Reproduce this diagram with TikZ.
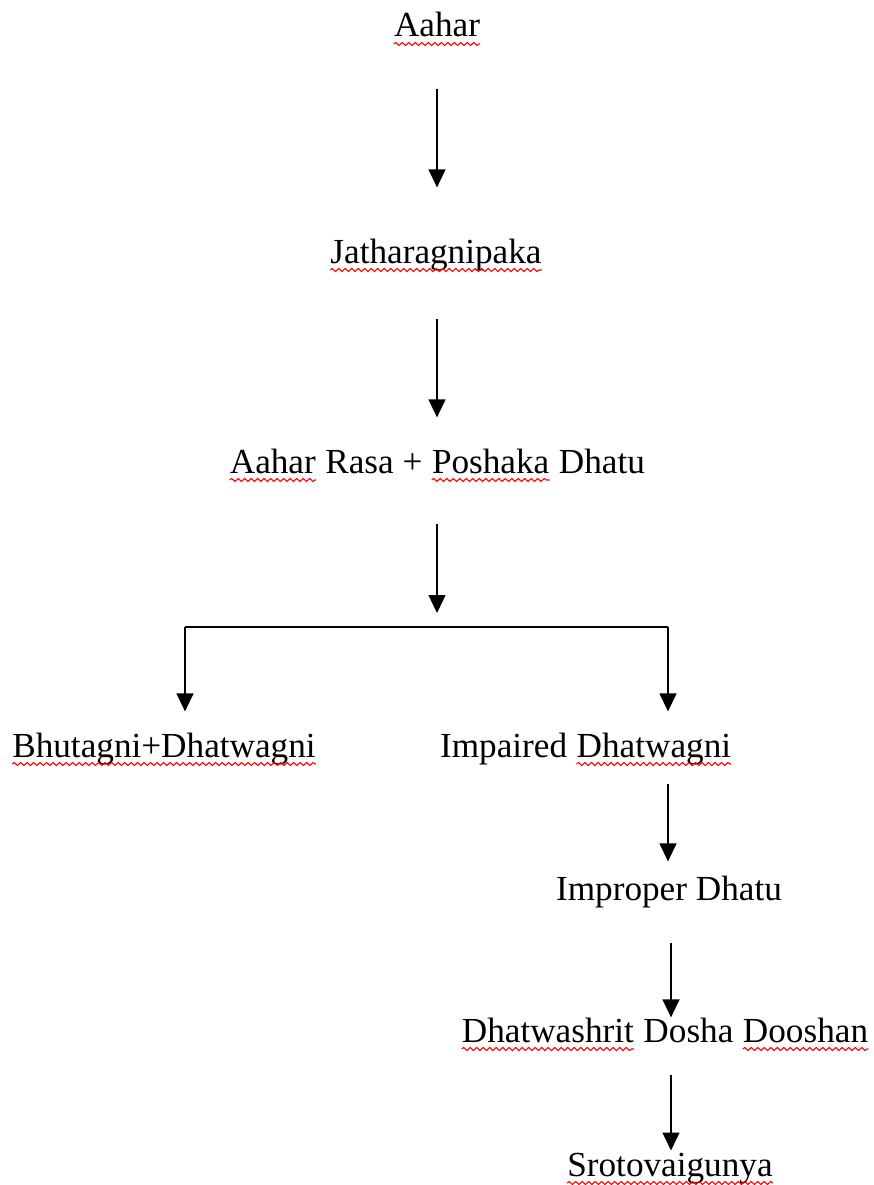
\documentclass[tikz,border=0pt]{standalone}
\usepackage{fontspec}
\setmainfont{Liberation Serif}
\usepackage{tikz}
\usetikzlibrary{arrows.meta}
\usetikzlibrary{positioning, decorations.pathmorphing}
\tikzset{
term/.style = { inner sep = 0pt, anchor = base, font = \fontsize{35.2}{42}\selectfont },
flow arrow/.style = { draw = black, line width = 1.3pt, -{Triangle[length = 18pt, width = 17pt]} },
split line/.style = { draw = black, line width = 1.3pt },
spell squiggle/.style = { draw = red, line width = 1.1pt, decorate, decoration = { snake, amplitude = 1.5pt, segment length = 6.5pt } },
}
% red wavy mark under a word
\newcommand{\spell}[1]{\tikz[baseline = (w.base)]{\node[inner sep = 0pt, anchor = base] (w) {#1}; \path[spell squiggle] ([yshift = -7pt]w.base west) -- ([yshift = -7pt]w.base east);}}

\begin{document}
\begin{tikzpicture}[x = 1pt, y = -1pt]
    \useasboundingbox (0, 0) rectangle (873, 1185);
    \node[term] (aahar) at (437, 37) {\spell{Aahar}};
    \node[term] (jathar) at (436, 263) {\spell{Jatharagnipaka}};
    \node[term] (rasa) at (437, 473) {\spell{Aahar} Rasa + \spell{Poshaka} Dhatu};
    \node[term] (bhutagni) at (164, 757) {\spell{Bhutagni+Dhatwagni}};
    \node[term] (impaired) at (586, 757) {Impaired \spell{Dhatwagni}};
    \node[term] (improper) at (669, 900) {Improper Dhatu};
    \node[term] (dooshan) at (665, 1042) {\spell{Dhatwashrit} Dosha \spell{Dooshan}};
    \node[term] (sroto) at (670, 1176) {\spell{Srotovaigunya}};
    \coordinate (split) at (437, 627);
    \coordinate (left split) at (185, 627);
    \coordinate (right split) at (668, 627);
    \coordinate (right column) at (671, 900);
    \path[flow arrow, shorten <= 43pt, shorten >= 51pt] (aahar.south) -- (jathar.north -| aahar);
    \path[flow arrow, shorten <= 47pt, shorten >= 31pt] (jathar.south -| rasa) -- (rasa.north);
    \path[flow arrow, shorten <= 42pt, shorten >= 14pt] (rasa.south) -- (split);
    \path[split line] (left split) -- (right split);
    \path[flow arrow, shorten >= 21pt] (left split) -- (left split |- bhutagni.north);
    \path[flow arrow, shorten >= 21pt] (right split) -- (right split |- impaired.north);
    \path[flow arrow, shorten <= 18pt, shorten >= 14pt] (impaired.south -| right split) -- (improper.north -| right split);
    \path[flow arrow, shorten <= 35pt] (improper.south -| right column) -- (dooshan.north -| right column);
    \path[flow arrow, shorten <= 24pt, shorten >= 2pt] (dooshan.south -| right column) -- (sroto.north -| right column);
\end{tikzpicture}
\end{document}
